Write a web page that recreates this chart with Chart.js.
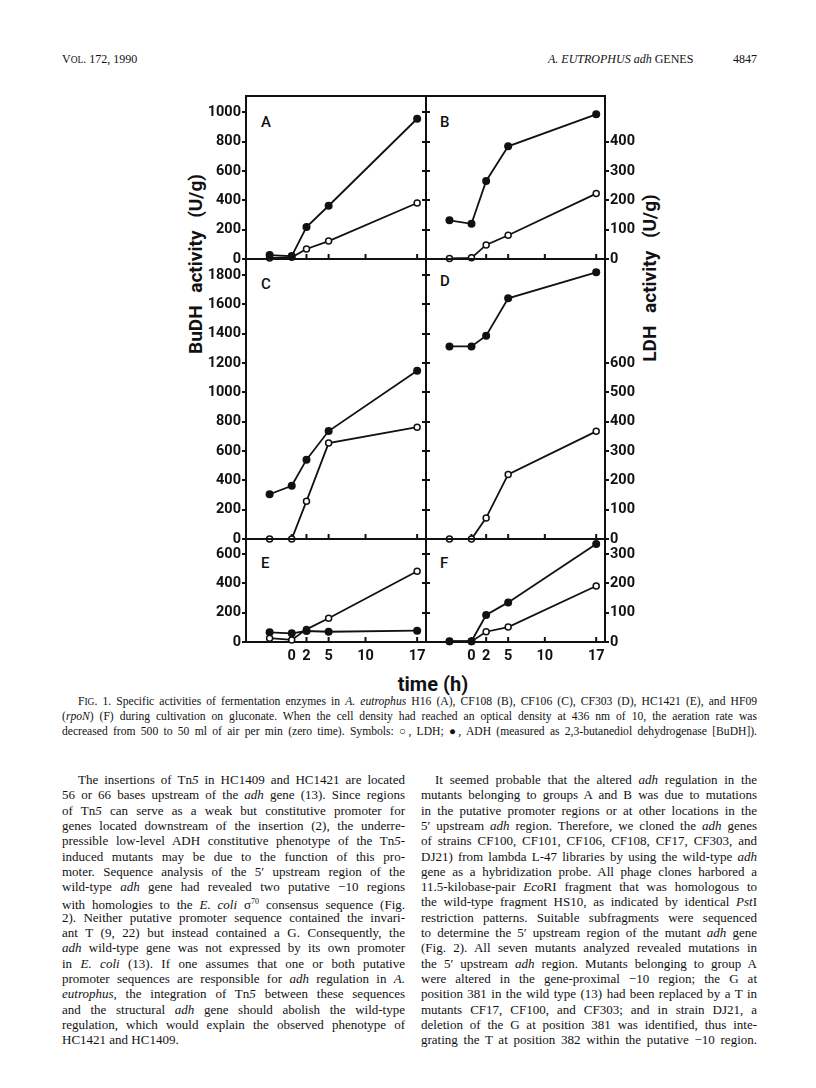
<!DOCTYPE html>
<html>
<head>
<meta charset="utf-8">
<script src="https://cdn.jsdelivr.net/npm/chart.js@4.4.1/dist/chart.umd.min.js"></script>
<style>
  body { margin: 0; width: 816px; height: 1088px; position: relative; overflow: hidden; background: #fff; color: #111;
         font-family: 'Liberation Serif', 'Times New Roman', serif; }
  .abs { position: absolute; }
  canvas { position: absolute; }
  .sans { font-family: Roboto, 'DejaVu Sans', sans-serif; font-weight: bold; }
  .letter { font-size: 15px; font-weight: 500; }
  .vtitle { width: 240px; height: 24px; line-height: 24px; text-align: center; font-size: 19px; word-spacing: 8px; transform: rotate(-90deg); }
  .hdr { font-size: 12px; top: 52px; }
  .ln { position: absolute; text-align: justify; text-align-last: justify; height: 15px; line-height: 15px; }
  .ln.last { text-align-last: left; }
  .cap .ln { font-size: 11.6px; }
  .body .ln { font-size: 13px; }
</style>
</head>
<body>

<div class="abs hdr" style="left:62px;">V<span style="font-size:9.5px">OL</span>. 172, 1990</div>
<div class="abs hdr" style="left:548px;"><i>A. EUTROPHUS adh</i> GENES</div>
<div class="abs hdr" style="left:733px;">4847</div>

<div class="abs sans vtitle" style="left:76px; top:252px;">BuDH activity (U/g)</div>
<div class="abs sans vtitle" style="left:530px; top:266px;">LDH activity (U/g)</div>
<div class="abs sans" style="left:383px; top:672px; width:100px; text-align:center; font-size:20px;">time (h)</div>

<div class="abs sans letter" style="left:261px; top:113px;">A</div>
<div class="abs sans letter" style="left:440px; top:113px;">B</div>
<div class="abs sans letter" style="left:261px; top:275px;">C</div>
<div class="abs sans letter" style="left:440px; top:272px;">D</div>
<div class="abs sans letter" style="left:261px; top:554px;">E</div>
<div class="abs sans letter" style="left:440px; top:554px;">F</div>

<div id="charts"></div>

<div class="cap" id="caption"></div>
<div class="body" id="bodytext"></div>

<script>
// time points (h) and x tick labels
const times = [-3, 0, 2, 5, 17];
const timeTicks = [0, 2, 5, 10, 17];

// ADH (BuDH, U/g) = filled circles, LDH (U/g) = open circles
const adhA = [27, 20, 218, 363, 956];
const ldhA = [3, 6, 34, 61, 191];
const adhB = [264, 240, 532, 768, 986];
const ldhB = [2, 4, 48, 81, 223];
const adhC = [305, 363, 541, 736, 1147];
const ldhC = [0, 0, 129, 327, 381];
const adhD = [1313, 1313, 1386, 1641, 1818];
const ldhD = [0, 0, 72, 220, 367];
const adhE = [66, 59, 75, 70, 77];
const ldhE = [13, 7, 43, 81, 241];
const adhF = [5, 5, 184, 270, 668];
const ldhF = [2, 2, 35, 51, 191];

// axis ranges / tick labels per row
const budhMax = [1111, 1909, 702];
const budhTicks = [
  [0, 200, 400, 600, 800, 1000],
  [0, 200, 400, 600, 800, 1000, 1200, 1400, 1600, 1800],
  [0, 200, 400, 600]
];
const ldhTicks = [
  [0, 100, 200, 300, 400],
  [0, 100, 200, 300, 400, 500, 600],
  [0, 100, 200, 300]
];

// layout of the plot boxes (px)
const colX = [[246, 426], [426, 605]];
const rowY = [[96, 259], [259, 539], [539, 642]];

const ink = '#111';
const tickFont = { family: "Roboto, 'DejaVu Sans', sans-serif", size: 14.5, weight: 'bold' };

// frame + inward time ticks
const framePlugin = {
  id: 'frame',
  beforeDatasetsDraw(chart) {
    const { ctx, chartArea: a, scales } = chart;
    ctx.save();
    ctx.strokeStyle = ink;
    ctx.lineWidth = 2;
    ctx.strokeRect(a.left, a.top, a.right - a.left, a.bottom - a.top);
    ctx.beginPath();
    timeTicks.forEach(t => {
      const px = scales.x.getPixelForValue(t);
      ctx.moveTo(px, a.bottom);
      ctx.lineTo(px, a.bottom - 5);
    });
    ctx.stroke();
    ctx.restore();
  }
};

function yGrid() {
  return { drawOnChartArea: false, drawTicks: true, tickLength: 4, lineWidth: 2, color: ink };
}

const plain = v => String(v);

function makePanel(row, col, adh, ldh) {
  const bottomRow = row === 2;
  const padL = col === 0 ? 46 : 8;
  const padR = col === 0 ? 8 : 40;
  const padT = 14;
  const padB = bottomRow ? 34 : 14;
  const [x0, x1] = colX[col];
  const [y0, y1] = rowY[row];

  const cv = document.createElement('canvas');
  const w = x1 - x0 + padL + padR;
  const h = y1 - y0 + padT + padB;
  cv.width = w; cv.height = h;
  cv.style.left = (x0 - padL) + 'px';
  cv.style.top = (y0 - padT) + 'px';
  cv.style.width = w + 'px';
  cv.style.height = h + 'px';
  document.getElementById('charts').appendChild(cv);

  const M = budhMax[row];
  const leftTicks = budhTicks[row];
  const rightTicks = col === 0 ? leftTicks.map(v => v / 2) : ldhTicks[row];

  new Chart(cv.getContext('2d'), {
    type: 'line',
    data: {
      datasets: [{
        label: 'ADH (BuDH)',
        data: times.map((t, i) => ({ x: t, y: adh[i] })),
        yAxisID: 'y',
        borderColor: ink, borderWidth: 1.8,
        pointRadius: 4, pointBackgroundColor: ink, pointBorderColor: ink, pointBorderWidth: 0,
        clip: false, tension: 0
      }, {
        label: 'LDH',
        data: times.map((t, i) => ({ x: t, y: ldh[i] })),
        yAxisID: 'y2',
        borderColor: ink, borderWidth: 1.8,
        pointRadius: 3, pointBackgroundColor: '#fff', pointBorderColor: ink, pointBorderWidth: 1.5,
        clip: false, tension: 0
      }]
    },
    options: {
      responsive: false,
      animation: false,
      events: [],
      layout: { padding: { top: padT, left: 0, right: 0, bottom: 0 } },
      plugins: { legend: { display: false }, tooltip: { enabled: false } },
      scales: {
        x: {
          type: 'linear', min: -6.2, max: 18.2,
          afterBuildTicks: s => { s.ticks = timeTicks.map(v => ({ value: v })); },
          afterFit: s => { s.height = padB; },
          grid: { display: false, drawTicks: false },
          border: { display: false },
          ticks: { display: bottomRow, color: ink, font: tickFont, padding: 6, maxRotation: 0, autoSkip: false, callback: plain }
        },
        y: {
          position: 'left', min: 0, max: M,
          afterBuildTicks: s => { s.ticks = leftTicks.map(v => ({ value: v })); },
          afterFit: s => { s.width = padL; },
          grid: yGrid(),
          border: { display: false },
          ticks: { display: col === 0, color: ink, font: tickFont, padding: 1, callback: plain }
        },
        y2: {
          position: 'right', min: 0, max: M / 2,
          afterBuildTicks: s => { s.ticks = rightTicks.map(v => ({ value: v })); },
          afterFit: s => { s.width = padR; },
          grid: yGrid(),
          border: { display: false },
          ticks: { display: col === 1, color: ink, font: tickFont, padding: 1, callback: plain }
        }
      }
    },
    plugins: [framePlugin]
  });
}

makePanel(0, 0, adhA, ldhA);
makePanel(0, 1, adhB, ldhB);
makePanel(1, 0, adhC, ldhC);
makePanel(1, 1, adhD, ldhD);
makePanel(2, 0, adhE, ldhE);
makePanel(2, 1, adhF, ldhF);

// caption and body text, line by line as printed
const captionLines = [
  'F<span style="font-size:9.5px">IG</span>. 1. Specific activities of fermentation enzymes in <i>A. eutrophus</i> H16 (A), CF108 (B), CF106 (C), CF303 (D), HC1421 (E), and HF09',
  '(<i>rpoN</i>) (F) during cultivation on gluconate. When the cell density had reached an optical density at 436 nm of 10, the aeration rate was',
  'decreased from 500 to 50 ml of air per min (zero time). Symbols: ○, LDH; ●, ADH (measured as 2,3-butanediol dehydrogenase [BuDH]).'
];
const leftCol = [
  'The insertions of Tn<i>5</i> in HC1409 and HC1421 are located',
  '56 or 66 bases upstream of the <i>adh</i> gene (13). Since regions',
  'of Tn<i>5</i> can serve as a weak but constitutive promoter for',
  'genes located downstream of the insertion (2), the underre-',
  'pressible low-level ADH constitutive phenotype of the Tn<i>5</i>-',
  'induced mutants may be due to the function of this pro-',
  'moter. Sequence analysis of the 5′ upstream region of the',
  'wild-type <i>adh</i> gene had revealed two putative −10 regions',
  'with homologies to the <i>E. coli</i> σ<sup style="font-size:8px">70</sup> consensus sequence (Fig.',
  '2). Neither putative promoter sequence contained the invari-',
  'ant T (9, 22) but instead contained a G. Consequently, the',
  '<i>adh</i> wild-type gene was not expressed by its own promoter',
  'in <i>E. coli</i> (13). If one assumes that one or both putative',
  'promoter sequences are responsible for <i>adh</i> regulation in <i>A.</i>',
  '<i>eutrophus</i>, the integration of Tn<i>5</i> between these sequences',
  'and the structural <i>adh</i> gene should abolish the wild-type',
  'regulation, which would explain the observed phenotype of',
  'HC1421 and HC1409.'
];
const rightCol = [
  'It seemed probable that the altered <i>adh</i> regulation in the',
  'mutants belonging to groups A and B was due to mutations',
  'in the putative promoter regions or at other locations in the',
  '5′ upstream <i>adh</i> region. Therefore, we cloned the <i>adh</i> genes',
  'of strains CF100, CF101, CF106, CF108, CF17, CF303, and',
  'DJ21) from lambda L-47 libraries by using the wild-type <i>adh</i>',
  'gene as a hybridization probe. All phage clones harbored a',
  '11.5-kilobase-pair <i>Eco</i>RI fragment that was homologous to',
  'the wild-type fragment HS10, as indicated by identical <i>Pst</i>I',
  'restriction patterns. Suitable subfragments were sequenced',
  'to determine the 5′ upstream region of the mutant <i>adh</i> gene',
  '(Fig. 2). All seven mutants analyzed revealed mutations in',
  'the 5′ upstream <i>adh</i> region. Mutants belonging to group A',
  'were altered in the gene-proximal −10 region; the G at',
  'position 381 in the wild type (13) had been replaced by a T in',
  'mutants CF17, CF100, and CF303; and in strain DJ21, a',
  'deletion of the G at position 381 was identified, thus inte-',
  'grating the T at position 382 within the putative −10 region.'
];

function writeLines(parent, lines, left, right, top, step, indent, lastLeft) {
  const el = document.getElementById(parent);
  lines.forEach((txt, i) => {
    const d = document.createElement('div');
    d.className = 'ln' + (lastLeft && i === lines.length - 1 ? ' last' : '');
    const l = left + (i === 0 ? indent : 0);
    d.style.left = l + 'px';
    d.style.width = (right - l) + 'px';
    d.style.top = (top + i * step) + 'px';
    d.innerHTML = txt;
    el.appendChild(d);
  });
}
writeLines('caption', captionLines, 62, 757, 694, 15, 16, false);
writeLines('bodytext', leftCol, 62, 405, 772, 15.3, 16, true);
writeLines('bodytext', rightCol, 421, 757, 772, 15.3, 14, false);
</script>
</body>
</html>
